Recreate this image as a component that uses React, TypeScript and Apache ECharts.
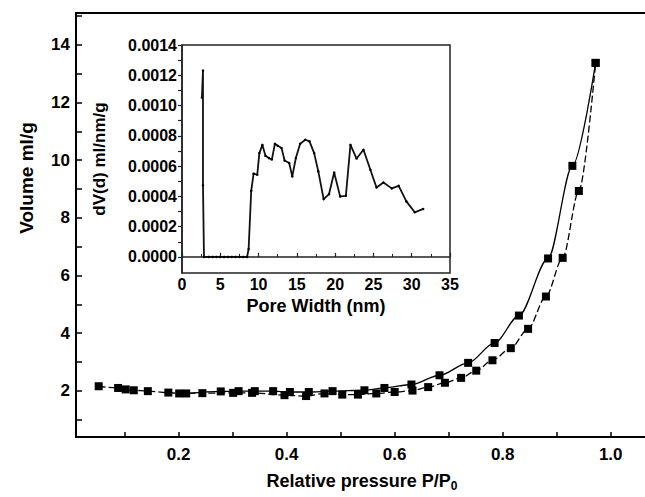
import React, { useEffect, useRef } from "react";
import * as echarts from "echarts";

// Main isotherm: adsorption branch
const adsX = [0.052, 0.088, 0.102, 0.117, 0.143, 0.181, 0.201, 0.244, 0.301, 0.336, 0.396, 0.436, 0.47, 0.503, 0.532, 0.566, 0.6, 0.633, 0.662, 0.693, 0.723, 0.751, 0.781, 0.815, 0.847, 0.88, 0.911, 0.941, 0.972];
const adsY = [2.16, 2.1, 2.05, 2.02, 1.99, 1.94, 1.91, 1.92, 1.93, 1.93, 1.85, 1.82, 1.91, 1.87, 1.87, 1.91, 1.96, 2.01, 2.13, 2.28, 2.45, 2.7, 3.06, 3.48, 4.15, 5.27, 6.61, 8.93, 13.37];
// Desorption branch
const desX = [0.214, 0.278, 0.311, 0.341, 0.375, 0.406, 0.441, 0.485, 0.544, 0.581, 0.631, 0.683, 0.736, 0.785, 0.83, 0.884, 0.929, 0.972];
const desY = [1.91, 1.98, 1.99, 1.99, 1.99, 1.96, 1.96, 1.99, 2.02, 2.1, 2.22, 2.54, 2.97, 3.66, 4.61, 6.59, 9.8, 13.37];

// Inset: pore size distribution
const poreW = [2.6, 2.74, 2.74, 2.87, 3.5, 4, 4.5, 5, 5.5, 6, 6.5, 7, 7.5, 8, 8.5, 8.7, 9.04, 9.35, 9.83, 10.1, 10.5, 10.9, 11.35, 11.74, 12.13, 12.5, 13.0, 13.4, 14.0, 14.4, 14.87, 15.43, 16.1, 16.65, 17.26, 17.8, 18.5, 19.2, 19.87, 20.65, 21.4, 22.0, 22.8, 23.7, 24.6, 25.4, 26.3, 27.4, 28.3, 29.3, 30.4, 31.5];
const poreDV = [0.001053, 0.001231, 0.000473, 0, 0, 0, 0, 0, 0, 0, 0, 0, 0, 0, 0, 0.0000527, 0.000437, 0.00055, 0.000543, 0.000686, 0.00074, 0.000668, 0.000653, 0.000644, 0.000747, 0.000734, 0.000719, 0.000637, 0.00062, 0.000532, 0.000653, 0.000747, 0.000774, 0.000763, 0.000686, 0.000565, 0.000382, 0.000415, 0.000558, 0.0004, 0.000404, 0.00074, 0.00065, 0.000708, 0.000576, 0.000459, 0.000492, 0.000453, 0.00047, 0.000367, 0.000295, 0.000317];

// Ticks / labels
const mainXTicks = [0.1, 0.2, 0.3, 0.4, 0.5, 0.6, 0.7, 0.8, 0.9, 1.0];
const mainXLabels = [0.2, 0.4, 0.6, 0.8, 1.0];
const mainYTicks = [1, 2, 3, 4, 5, 6, 7, 8, 9, 10, 11, 12, 13, 14, 15];
const mainYLabels = [2, 4, 6, 8, 10, 12, 14];
const insetYTicks = [0, 0.0001, 0.0002, 0.0003, 0.0004, 0.0005, 0.0006, 0.0007, 0.0008, 0.0009, 0.001, 0.0011, 0.0012, 0.0013, 0.0014];
const insetYLabels = [0, 0.0002, 0.0004, 0.0006, 0.0008, 0.001, 0.0012, 0.0014];

const FONT = "Liberation Sans, Arial, sans-serif";

export default function App() {
  const ref = useRef<HTMLDivElement>(null);
  useEffect(() => {
    const chart = echarts.init(ref.current!, null, { renderer: "svg" });
    const txt = { color: "#000", fontFamily: FONT, fontWeight: "bold" as const };
    chart.setOption({
      animation: false,
      backgroundColor: "#fff",
      grid: [
        { left: 76, top: 13, right: 2, bottom: 56, show: true, borderColor: "#000", borderWidth: 2, backgroundColor: "transparent" },
        { left: 182, top: 45, width: 268, height: 228, show: true, borderColor: "#222", borderWidth: 1.5, backgroundColor: "#fff" },
      ],
      graphic: [
        {
          type: "text",
          x: 26,
          y: 178,
          rotation: Math.PI / 2,
          style: { text: "Volume ml/g", x: 0, y: 0, align: "center", verticalAlign: "middle", fill: "#000", font: `bold 19px ${FONT}` },
          z: 10,
        },
      ],
      xAxis: [
        {
          gridIndex: 0,
          type: "value",
          min: 0.01,
          max: 1.069,
          name: "{a|Relative pressure P/P}{s|0}",
          nameLocation: "middle",
          nameGap: 32,
          nameTextStyle: {
            rich: {
              a: { ...txt, fontSize: 18 },
              s: { ...txt, fontSize: 12, padding: [11, 0, 0, 0] },
            },
          },
          axisLine: { show: true, lineStyle: { color: "#000", width: 2 } },
          axisTick: { show: true, inside: true, length: 5, lineStyle: { color: "#000", width: 1.5 }, customValues: mainXTicks },
          axisLabel: { ...txt, fontSize: 17, margin: 9, customValues: mainXLabels, formatter: (v: number) => v.toFixed(1) },
          splitLine: { show: false },
        },
        {
          gridIndex: 1,
          type: "value",
          min: 0,
          max: 35,
          interval: 5,
          name: "Pore Width (nm)",
          nameLocation: "middle",
          nameGap: 24,
          nameTextStyle: { ...txt, fontSize: 18 },
          axisLine: { show: true, lineStyle: { color: "#222", width: 1.5 } },
          axisTick: { show: true, inside: true, length: 4, lineStyle: { color: "#222", width: 1.2 } },
          minorTick: { show: true, splitNumber: 2, length: 3, lineStyle: { color: "#222", width: 1 } },
          axisLabel: { ...txt, fontSize: 16, margin: 3 },
          splitLine: { show: false },
          minorSplitLine: { show: false },
        },
      ],
      yAxis: [
        {
          gridIndex: 0,
          type: "value",
          min: 0.4,
          max: 15.1,
          axisLine: { show: true, lineStyle: { color: "#000", width: 2 } },
          axisTick: { show: true, inside: true, length: 6, lineStyle: { color: "#000", width: 1.5 }, customValues: mainYTicks },
          axisLabel: { ...txt, fontSize: 17, margin: 6, customValues: mainYLabels },
          splitLine: { show: false },
        },
        {
          gridIndex: 1,
          type: "value",
          min: -0.000106,
          max: 0.0014,
          name: "dV(d) ml/nm/g",
          nameLocation: "middle",
          nameRotate: 90,
          nameGap: 74,
          nameTextStyle: { ...txt, fontSize: 17 },
          axisLine: { show: true, lineStyle: { color: "#222", width: 1.5 } },
          axisTick: { show: true, inside: false, length: 4, lineStyle: { color: "#222", width: 1.2 }, customValues: insetYTicks },
          axisLabel: { ...txt, fontSize: 16, margin: 5, customValues: insetYLabels, formatter: (v: number) => v.toFixed(4) },
          splitLine: { show: false },
        },
      ],
      series: [
        {
          type: "line",
          xAxisIndex: 0,
          yAxisIndex: 0,
          data: adsX.map((x, i) => [x, adsY[i]]),
          smooth: 0.3,
          smoothMonotone: "x",
          symbol: "rect",
          symbolSize: 8,
          itemStyle: { color: "#000" },
          lineStyle: { color: "#000", width: 1.3, type: [7, 3] },
          z: 3,
        },
        {
          type: "line",
          xAxisIndex: 0,
          yAxisIndex: 0,
          data: desX.map((x, i) => [x, desY[i]]),
          smooth: 0.3,
          smoothMonotone: "x",
          symbol: "rect",
          symbolSize: 8,
          itemStyle: { color: "#000" },
          lineStyle: { color: "#000", width: 1.3 },
          z: 3,
        },
        {
          type: "line",
          xAxisIndex: 1,
          yAxisIndex: 1,
          data: poreW.map((x, i) => [x, poreDV[i]]),
          symbol: "circle",
          symbolSize: 2.5,
          itemStyle: { color: "#000" },
          lineStyle: { color: "#111", width: 1.8 },
          z: 5,
        },
      ],
    });
    return () => chart.dispose();
  }, []);
  return <div ref={ref} style={{ position: "fixed", left: 0, top: 0, width: 650, height: 497 }} />;
}
